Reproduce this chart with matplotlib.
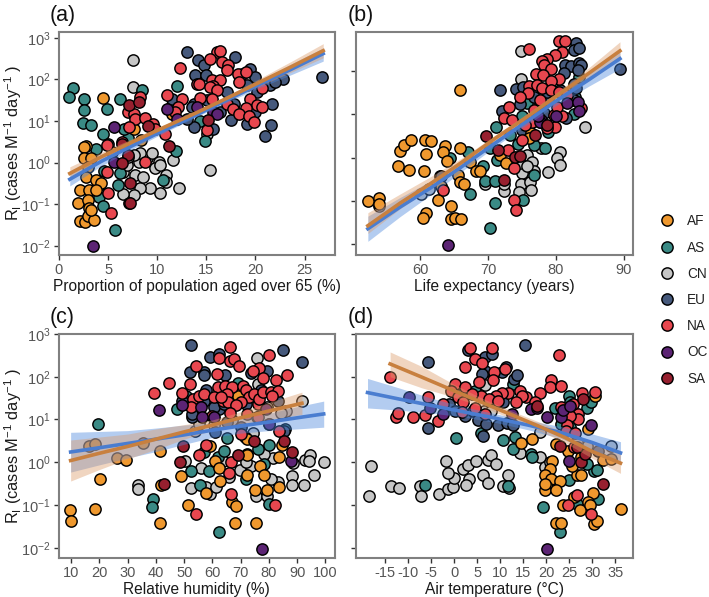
import numpy as np
import matplotlib
matplotlib.use("Agg")
import matplotlib.pyplot as plt
from matplotlib.lines import Line2D

plt.rcParams["font.family"] = ["Liberation Sans", "DejaVu Sans"]
plt.rcParams["mathtext.default"] = "regular"
plt.rcParams["axes.unicode_minus"] = False

regions = ["AF", "AS", "CN", "EU", "NA", "OC", "SA"]
draw_order = ["CN", "AS", "EU", "AF", "NA", "OC", "SA"]
colors = {"AF": "#ef982e", "AS": "#3a8a85", "CN": "#c6c6c6", "EU": "#46597c",
          "NA": "#e8474f", "OC": "#5c2474", "SA": "#97202f"}

# All y values below are log10(RI)

# Panel (a): population over 65
a_af_x = [4.5, 7.6, 2.8, 2.5, 2.5, 3.3, 5.4, 3.0, 8.3, 2.8, 3.8, 4.3, 2.1, 3.1, 3.8, 1.9, 3.0, 3.1, 2.1, 2.6, 3.0, 3.6, 3.3, 11.5]
a_af_y = [1.56, 0.8, 0.4, 0.38, 0.1, 0.12, 0.26, -0.1, 0.54, -0.34, -0.42, -0.5, -0.65, -0.65, -0.66, -0.97, -0.9, -1.1, -1.4, -1.42, -1.28, -1.38, -1.14, 1.18]
a_as_x = [1.4, 1.05, 2.5, 2.55, 2.4, 3.3, 4.9, 6.2, 8.5, 12.0, 4.5, 7.0, 3.8, 5.0, 4.6, 6.2, 6.0, 4.1, 4.1, 4.5, 5.75, 11.5, 14.4, 14.9, 11.9, 6.6, 10.6]
a_as_y = [1.8, 1.57, 1.52, 1.26, 0.96, 0.9, 1.3, 1.52, 1.74, 1.85, 0.7, 0.6, 0.32, 0.44, -0.2, -0.25, -0.54, -0.53, -0.82, -1.05, -1.61, 1.38, 1.0, 0.52, 0.28, 0.82, -0.42]
a_cn_x = [7.5, 7.5, 15.4, 15.05, 12.2, 10.3, 11.65, 10.9, 10.9, 9.3, 8.25, 7.75, 8.6, 7.6, 6.5, 6.55, 6.9, 8.1, 9.0, 9.45, 8.25, 10.2, 9.8, 10.3, 7.6, 7.05]
a_cn_y = [2.46, 1.82, -0.17, 0.7, -0.62, -0.72, 0.06, -0.3, -0.46, -0.62, -0.6, -0.3, -0.34, -0.78, -0.76, -0.22, -0.06, 0.02, 0.12, 0.22, 0.22, 0.02, -0.14, -0.06, 0.18, 0.14]
a_eu_x = [13.0, 14.2, 14.8, 17.9, 13.85, 15.0, 18.6, 19.4, 20.0, 22.8, 26.8, 17.1, 19.1, 20.15, 21.5, 22.0, 13.7, 13.5, 11.5, 15.7, 13.7, 17.5, 19.1, 21.0, 21.6, 21.7, 20.0, 16.4, 13.0, 15.05, 17.8]
a_eu_y = [2.65, 2.46, 2.34, 2.54, 2.1, 2.1, 2.13, 2.24, 2.05, 2.0, 2.06, 1.7, 1.86, 1.7, 1.86, 1.94, 1.42, 1.34, 1.54, 0.82, 0.86, 1.02, 0.92, 0.64, 0.9, 1.4, 1.22, 1.22, 1.06, 1.5, 1.42]
a_na_x = [12.3, 16.05, 16.4, 15.4, 16.6, 17.25, 17.1, 18.2, 19.0, 14.0, 14.3, 15.55, 16.4, 15.7, 15.4, 16.05, 18.3, 20.65, 12.5, 11.0, 12.15, 11.8, 14.4, 15.55, 19.45, 20.15, 20.65, 19.05, 17.1, 17.75, 18.3, 19.3, 19.9, 8.25, 7.05, 7.6, 7.75, 8.8, 9.6, 9.8, 7.1, 10.8, 15.05, 4.85, 8.8, 4.95, 5.3, 7.15, 4.85, 6.4]
a_na_y = [2.28, 2.66, 2.69, 2.5, 2.42, 2.34, 2.22, 2.13, 2.18, 1.9, 1.88, 1.98, 1.98, 1.84, 1.81, 1.74, 1.94, 1.8, 1.52, 1.62, 1.33, 1.22, 1.56, 1.52, 1.53, 1.38, 1.34, 1.32, 1.42, 1.3, 1.16, 1.12, 0.98, 1.58, 1.22, 1.16, 1.06, 1.08, 0.92, 0.82, 0.86, 0.68, 0.78, 0.42, 0.02, -0.73, -1.2, -0.98, -0.22, 0.5]
a_oc_x = [3.5, 5.55, 11.0, 14.0, 12.0, 15.7, 5.55, 16.05]
a_oc_y = [-2.0, 0.86, 1.3, 1.34, 1.06, 1.22, 0.02, 1.18]
a_sa_x = [7.15, 8.1, 9.1, 11.15, 6.4, 7.05, 6.4, 7.25, 7.25, 15.2]
a_sa_y = [1.38, 1.46, 0.88, 0.4, 0.46, 0.18, 0.0, -0.5, -0.96, 1.02]

# Panel (b): life expectancy
b_af_x = [52.25, 53.9, 53.9, 57.05, 57.65, 58.55, 56.7, 58.3, 60.5, 60.65, 61.55, 60.85, 63.6, 63.3, 63.9, 65.9, 65.9, 65.5, 65.9, 66.4, 63.1, 62.55, 64.5, 60.9, 60.4, 64.5, 65.15, 66.0, 67.35, 68.2, 68.85, 71.7, 72.6, 76.3, 76.1]
b_af_y = [-1.0, -0.93, -1.08, 0.16, 0.28, 0.41, -0.19, -0.28, -0.32, 0.41, 0.38, 0.09, 0.27, 0.12, -0.07, 0.22, 1.56, -0.39, -0.57, -0.62, -0.65, -0.97, -1.12, -1.27, -1.39, -1.41, -1.39, -1.41, -0.09, -0.3, -0.3, 0.06, -0.13, 0.56, 0.45]
b_as_x = [67.25, 70.95, 70.2, 69.3, 69.55, 71.05, 71.2, 71.3, 64.3, 67.1, 70.3, 73.25, 74.4, 76.7, 78.4, 78.9, 75.2, 75.75, 82.7, 82.85, 83.35, 76.7, 75.0, 77.65]
b_as_y = [-0.85, -1.05, -1.63, -0.2, -0.53, -0.55, 0.7, -0.05, 0.0, 0.12, 0.22, 0.52, 0.32, 0.29, 0.23, 0.6, -0.97, 1.27, 1.0, 1.4, 1.86, -0.39, 0.95, 1.25]
b_cn_x = [74.85, 74.9, 84.3, 80.6, 80.15, 80.6, 78.9, 77.8, 75.7, 76.45, 76.7, 75.0, 74.9, 76.2, 76.35, 74.5, 72.3, 72.4, 69.5, 60.15, 61.2, 53.9, 62.95, 74.7, 75.7]
b_cn_y = [2.45, 1.81, 0.71, 0.12, -0.01, -0.17, -0.34, 0.22, 0.05, -0.09, -0.32, -0.36, -0.62, -0.56, -0.74, -0.8, -0.78, -0.6, -0.61, -0.84, -0.72, -1.12, -0.43, -0.13, -0.2]
b_eu_x = [71.8, 74.1, 74.75, 72.1, 83.0, 82.7, 83.45, 81.35, 82.25, 83.35, 83.7, 83.25, 81.2, 82.6, 82.95, 89.45, 81.5, 77.7, 75.0, 63.0, 76.7, 78.9, 82.1, 80.6, 75.2, 78.65, 82.6, 78.2]
b_eu_y = [1.56, 1.58, 1.23, 1.07, 2.64, 2.47, 2.53, 2.13, 2.11, 2.19, 2.13, 2.02, 1.94, 1.69, 1.6, 2.05, 0.91, 0.83, 0.64, -0.43, 1.4, 1.33, 1.33, 1.55, 1.63, 1.52, 1.33, 1.02]
b_na_x = [76.1, 80.4, 81.35, 80.85, 79.9, 78.65, 78.0, 78.25, 79.3, 77.05, 78.15, 80.4, 79.3, 76.05, 77.15, 77.9, 79.25, 75.95, 74.75, 73.15, 72.4, 73.5, 76.7, 79.65, 80.85, 83.65, 80.1, 79.9, 78.65, 75.0, 73.0, 73.85, 73.85, 74.1, 63.35, 80.4, 77.65, 81.6, 76.45, 75.45]
b_na_y = [2.51, 2.69, 2.68, 2.44, 2.37, 2.28, 2.22, 2.13, 2.05, 1.92, 1.9, 1.82, 1.77, 1.65, 1.67, 1.61, 1.56, 1.48, 1.4, 1.16, 0.91, 0.87, 1.1, 0.98, 0.97, 1.14, 1.17, 0.71, 0.68, 0.41, 0.18, -0.24, -0.97, -1.21, -0.75, 1.52, 1.33, 1.44, 0.83, 0.75]
b_oc_x = [64.05, 81.6, 83.25, 83.45, 77.8, 77.65, 80.0, 77.4]
b_oc_y = [-2.02, 1.25, 1.29, 1.07, 0.87, 0.81, 0.95, 0.95]
b_sa_x = [69.65, 71.45, 74.0, 72.3, 76.95, 74.7, 78.65]
b_sa_y = [0.5, 0.18, 0.01, -0.51, 0.52, 0.03, 0.75]

# Panel (c): relative humidity
c_af_x = [9.5, 10.0, 18.4, 20.2, 41.5, 41.5, 41.7, 49.0, 51.5, 57.9, 59.2, 61.0, 62.2, 62.7, 67.1, 68.3, 67.95, 75.6, 75.0, 77.0, 78.4, 79.2, 83.7, 83.4, 84.6, 72.2, 72.2, 72.4, 69.1, 16.3, 18.4, 26.3, 29.5, 35.5]
c_af_y = [-1.11, -1.38, -1.1, -0.39, 0.26, -1.42, -0.54, -0.33, -1.01, -0.71, 0.38, 0.04, -0.14, -0.44, -0.93, -1.03, -1.42, -1.42, -0.66, -0.08, -0.31, -0.64, -0.58, 0.12, 0.41, -0.31, 0.16, 0.55, 1.54, 0.37, 0.43, 0.09, 0.06, 0.45]
c_as_x = [19.6, 39.0, 38.7, 62.4, 55.5, 52.3, 58.8, 61.8, 64.2, 65.0, 71.6, 76.0, 79.9, 85.8, 47.4, 50.6, 69.1, 71.9, 80.1, 57.1, 72.4, 78.4]
c_as_y = [0.9, -0.85, -1.05, -1.64, -0.54, -0.21, -0.21, 0.13, 0.27, 0.56, 0.59, 0.31, 0.41, 0.78, 1.25, 1.56, 1.85, -0.4, -0.97, 0.24, 0.2, -0.04]
c_cn_x = [33.6, 33.6, 91.7, 99.4, 96.1, 92.9, 94.7, 94.3, 88.6, 88.2, 88.2, 92.5, 81.3, 78.4, 75.8, 76.0, 55.9, 52.3, 57.9, 59.1, 61.2, 50.3, 65.9, 69.8, 73.6, 71.9, 74.3, 75.4, 79.5, 83.1, 80.7, 67.1, 79.5, 86.0, 84.3, 53.9, 55.3, 60.6, 75.8, 63.6]
c_cn_y = [-0.54, -0.62, 1.44, 0.0, -0.31, 0.06, 0.16, 0.04, -0.01, -0.33, -0.54, -0.54, 0.1, 0.2, 2.45, 1.82, -0.14, -0.61, -0.58, -0.74, -0.58, 0.02, -0.35, -0.17, -0.09, 0.0, 0.69, -0.79, -0.78, -0.47, -0.39, 0.98, 1.29, 1.21, 1.15, 0.74, 0.9, 0.86, 1.05, 0.04]
c_eu_x = [52.3, 59.1, 62.2, 84.9, 91.7, 52.1, 57.1, 57.1, 64.4, 73.6, 79.2, 77.2, 57.9, 57.1, 52.9, 52.9, 61.2, 62.4, 60.6, 49.4, 64.2, 60.9, 70.1, 79.9, 85.5, 71.9, 65.3, 83.1]
c_eu_y = [2.75, 2.47, 2.53, 2.63, 2.34, 2.1, 2.12, 2.03, 2.05, 2.08, 2.13, 1.7, 1.68, 1.43, 1.05, 1.13, 1.35, 1.25, 1.29, 1.44, 1.36, 0.7, 0.82, 0.9, 0.74, 1.36, 0.94, 1.44]
c_na_x = [66.2, 62.4, 66.2, 67.7, 69.5, 54.1, 79.9, 76.6, 74.4, 77.8, 82.5, 86.4, 61.6, 44.6, 39.3, 49.4, 52.1, 53.2, 55.3, 57.1, 52.3, 62.0, 64.4, 67.1, 65.3, 63.6, 65.6, 71.0, 71.8, 73.0, 74.8, 70.1, 68.3, 76.0, 76.6, 77.8, 80.7, 83.3, 81.0, 66.3, 72.4, 76.0, 60.0, 70.1, 83.7, 57.9, 55.3, 66.5, 65.9, 66.5, 82.1, 54.1, 60.6, 63.0]
c_na_y = [2.69, 2.45, 2.36, 2.42, 2.24, 2.26, 2.51, 2.21, 2.14, 1.97, 1.93, 2.05, 2.07, 1.86, 1.61, 1.62, 1.82, 1.48, 1.54, 1.6, 1.29, 1.75, 1.79, 1.75, 1.6, 1.44, 1.42, 1.79, 1.68, 1.52, 1.6, 1.4, 1.33, 1.36, 1.48, 1.64, 1.64, 1.66, 1.56, 1.15, 1.13, 1.05, 1.09, 0.66, 0.74, 0.41, 0.17, 0.0, -0.26, -0.74, -0.99, -1.22, 1.52, 1.52]
c_oc_x = [41.1, 49.1, 55.9, 56.2, 60.6, 79.9, 87.8, 77.5, 78.9]
c_oc_y = [1.23, 1.34, 1.29, 1.05, 1.05, 0.9, 0.02, -2.02, 1.25]
c_sa_x = [49.7, 48.6, 42.9, 69.1, 74.8, 85.5, 88.2]
c_sa_y = [0.39, 0.0, -0.52, 0.17, 0.49, 0.49, 0.24]

# Panel (d): air temperature
d_af_x = [14.5, 16.9, 21.2, 20.9, 19.8, 21.1, 22.9, 20.1, 19.8, 22.0, 19.7, 26.6, 27.5, 25.5, 24.7, 27.5, 22.0, 32.3, 34.1, 36.2, 30.1, 29.0, 25.9, 27.4, 23.6, 22.2, 23.1, 30.3, 30.9, 30.5, 29.0, 29.4]
d_af_y = [0.45, 0.54, 0.04, -0.16, -0.31, -0.4, -0.44, -0.58, -0.65, -0.66, -0.52, -0.31, -0.31, -0.08, 0.26, 0.12, 0.43, 0.06, 0.08, -1.1, -0.72, -0.92, -0.82, -1.11, -1.0, -1.42, -1.42, -1.44, -1.38, 1.54, 0.78, -1.0]
d_as_x = [-6.3, 0.3, 5.9, 10.7, 13.2, 12.8, 11.6, 16.6, 16.8, 19.3, 22.9, 25.0, 30.4, 31.1, 31.3, 26.6, 28.9, 24.9, 21.8, 28.9, 29.7, 23.2, 25.1, 12.8, 4.5, 25.1]
d_as_y = [-0.54, 0.56, 0.68, 0.51, 0.6, 0.31, -0.56, 0.19, 0.13, -1.05, -1.63, -0.41, -0.21, -0.19, -0.86, -0.97, -0.04, 1.56, 1.26, 1.26, 1.4, 0.89, 0.82, 1.83, 1.67, 1.4]
d_cn_x = [-18.1, -18.5, -13.7, -12.0, -7.4, -7.2, -3.2, -1.3, -0.2, 0.0, -1.3, -1.7, 2.0, 3.0, 4.7, 7.4, 7.9, 9.1, 6.3, 3.2, 2.5, 7.4, 11.6, 10.7, 12.0, 14.3, 18.6, 19.7, 20.8, 6.6, -0.2, 34.1, 28.8, 18.7, 26.7, 6.5, 8.1]
d_cn_y = [-0.08, -0.8, -0.56, -0.61, -0.56, -0.78, -0.74, -0.62, -0.57, -0.37, -0.25, 0.02, -0.16, -0.06, 0.02, 0.05, 0.16, -0.04, -0.31, -0.4, -0.54, -0.48, -0.31, -0.56, -0.61, 0.22, 0.12, -0.12, 0.0, 1.81, 1.71, 0.37, 0.39, 0.7, 0.48, 1.21, 1.21]
d_eu_x = [15.3, -5.7, 2.9, 6.6, 8.2, 6.8, 6.0, 10.4, 11.2, 12.9, 13.6, -5.7, 6.2, -1.1, 0.1, 2.4, 4.1, 5.2, 7.0, 9.5, 11.4, 12.7, 10.7, 31.2]
d_eu_y = [2.75, 2.35, 2.63, 2.47, 2.53, 2.14, 2.06, 2.1, 2.22, 1.95, 2.04, 0.8, 0.61, 1.36, 1.21, 1.09, 1.19, 0.99, 0.89, 0.87, 0.91, 0.86, 1.4, 0.27]
d_na_x = [-13.9, -12.7, -12.2, -9.0, -6.4, -5.7, -3.5, -2.4, 3.5, 8.2, 22.7, 4.5, 6.0, 2.3, 8.6, 11.1, 8.4, 5.3, 0.1, 2.3, -0.6, 21.1, 20.8, 23.2, 18.6, 14.3, 11.7, 15.5, 14.8, 10.4, 9.1, 5.8, 3.8, 0.9, 2.0, 7.5, 9.6, 13.5, 17.5, 4.5, 6.6, 1.7, 27.8, 30.5, 23.2, 25.7, 26.8, 26.9, 25.1, 24.4, 24.3, 26.2, 24.6, 26.7, 29.6, 26.0]
d_na_y = [2.0, 1.07, 1.15, 1.05, 1.11, 1.52, 0.96, 1.36, 2.67, 2.68, 2.51, 2.41, 2.33, 2.23, 2.12, 2.18, 1.92, 1.87, 1.84, 1.75, 1.67, 1.92, 1.77, 1.79, 1.61, 1.66, 1.63, 1.52, 1.56, 1.61, 1.56, 1.56, 1.6, 1.52, 1.42, 1.48, 1.44, 1.4, 1.4, 1.28, 1.13, 1.17, 1.63, 1.65, 1.3, 1.36, 1.14, 1.01, 1.09, 0.86, 0.74, 0.68, -0.99, -0.76, -1.22, 0.35]
d_oc_x = [-9.9, 20.2, 20.2, 23.2, 16.6, 17.9, 23.6, 25.2, 29.8, 25.0, 12.6, -5.2, -2.4]
d_oc_y = [1.53, -2.03, 1.05, 1.05, 1.25, 1.28, 1.23, 1.32, 0.86, 0.02, 1.13, 1.28, 1.13]
d_sa_x = [32.4, 27.9, 23.0, 27.6, 28.4, 26.6, 17.9]
d_sa_y = [-0.52, 1.48, 0.39, 0.0, 0.19, 0.35, 1.32]

# Fits with confidence bands, read at a few x positions
a_fit_x = [1.1, 4.3, 7.5, 10.8, 14.0, 17.2, 20.4, 23.7, 26.9]
a_org = [-0.26, 0.14, 0.5, 0.86, 1.2, 1.56, 1.93, 2.31, 2.69]
a_org_lo = [-0.42, 0.03, 0.42, 0.8, 1.15, 1.5, 1.84, 2.18, 2.52]
a_org_hi = [-0.1, 0.25, 0.58, 0.92, 1.25, 1.62, 2.02, 2.44, 2.86]
a_blu = [-0.4, 0.03, 0.41, 0.79, 1.15, 1.52, 1.88, 2.25, 2.62]
a_blu_lo = [-0.56, -0.08, 0.33, 0.73, 1.1, 1.46, 1.8, 2.12, 2.44]
a_blu_hi = [-0.24, 0.14, 0.49, 0.85, 1.2, 1.58, 1.96, 2.38, 2.76]

b_fit_x = [52.25, 57, 61.5, 66, 71, 75, 80, 85, 89.45]
b_org = [-1.57, -1.05, -0.6, -0.12, 0.44, 0.86, 1.41, 1.96, 2.46]
b_org_lo = [-1.75, -1.18, -0.7, -0.2, 0.37, 0.79, 1.33, 1.83, 2.28]
b_org_hi = [-1.27, -0.84, -0.44, -0.02, 0.51, 0.93, 1.49, 2.09, 2.67]
b_blu = [-1.64, -1.14, -0.7, -0.22, 0.33, 0.76, 1.3, 1.81, 2.28]
b_blu_lo = [-1.93, -1.36, -0.86, -0.33, 0.25, 0.68, 1.2, 1.66, 2.05]
b_blu_hi = [-1.35, -0.92, -0.54, -0.11, 0.41, 0.84, 1.4, 1.96, 2.45]

c_fit_x = [9.8, 20, 30, 40, 50, 60, 70, 80, 91.7]
c_org = [0.04, 0.21, 0.37, 0.54, 0.71, 0.87, 1.04, 1.2, 1.38]
c_org_lo = [-0.44, -0.17, 0.08, 0.3, 0.54, 0.75, 0.9, 1.0, 1.12]
c_org_hi = [0.52, 0.59, 0.66, 0.78, 0.88, 0.99, 1.18, 1.4, 1.64]
c_blu_x = [9.8, 20, 30, 40, 50, 60, 70, 80, 90, 99.4]
c_blu = [0.24, 0.34, 0.44, 0.54, 0.64, 0.75, 0.85, 0.94, 1.04, 1.13]
c_blu_lo = [-0.23, -0.06, 0.1, 0.25, 0.42, 0.58, 0.68, 0.74, 0.78, 0.82]
c_blu_hi = [0.7, 0.72, 0.74, 0.8, 0.87, 0.92, 1.02, 1.14, 1.3, 1.43]

d_fit_x = [-13.9, -7, 0, 6, 12, 18, 24, 30, 36.1]
d_org = [2.3, 1.99, 1.67, 1.4, 1.13, 0.86, 0.58, 0.25, -0.02]
d_org_lo = [2.0, 1.74, 1.52, 1.3, 1.04, 0.76, 0.46, 0.09, -0.26]
d_org_hi = [2.58, 2.24, 1.82, 1.5, 1.22, 0.96, 0.7, 0.45, 0.21]
d_blu_x = [-18.8, -12, -5, 2, 9, 16, 23, 30, 36.1]
d_blu = [1.63, 1.48, 1.33, 1.18, 1.03, 0.87, 0.7, 0.46, 0.22]
d_blu_lo = [1.27, 1.22, 1.15, 1.06, 0.93, 0.76, 0.56, 0.26, -0.04]
d_blu_hi = [1.96, 1.74, 1.5, 1.3, 1.13, 0.98, 0.84, 0.66, 0.48]

xlabels = ["Proportion of population aged over 65 (%)", "Life expectancy (years)",
           "Relative humidity (%)", "Air temperature (°C)"]
ylabel = r"R$_{I}$ (cases M$^{-1}$ day$^{-1}$ )"

W, H = 709.0, 597.0


def panel_axes(fig, left, right, top, bottom):
    return fig.add_axes([left / W, 1 - bottom / H, (right - left) / W, (bottom - top) / H])


def draw_panel(ax, points, org, blu, tag, xlabel, xticks, xlim, ylim, yticks, show_y):
    for name in draw_order:
        x, y = points[name]
        ax.scatter(x, 10.0 ** np.array(y), s=66, c=colors[name], edgecolors="black",
                   linewidths=1.05, zorder=3)

    # blue fit first, orange on top
    for fit, line_c, band_c in [(blu, "#4a7dd0", "#4a86dc"), (org, "#c8803f", "#dc9b6a")]:
        fx, fy, lo, hi = fit
        ax.fill_between(fx, 10.0 ** np.array(lo), 10.0 ** np.array(hi), color=band_c,
                        alpha=0.42, linewidth=0, zorder=4)
        ax.plot(fx, 10.0 ** np.array(fy), color=line_c, lw=2.6, zorder=5)

    ax.set_yscale("log")
    ax.set_xlim(*xlim)
    ax.set_ylim(10.0 ** ylim[0], 10.0 ** ylim[1])
    ax.set_xticks(xticks)
    ax.set_xticklabels([str(t) for t in xticks])
    ax.set_yticks(10.0 ** np.array(yticks))
    ax.minorticks_off()
    ax.tick_params(axis="both", length=3.5, width=1.0, color="#333333", labelcolor="#555555",
                   labelsize=10.5, pad=2)
    if not show_y:
        ax.tick_params(axis="y", labelleft=False)
    else:
        ax.set_ylabel(ylabel, fontsize=11.8, color="#1a1a1a")
        # label coordinate is the right edge of the rotated text
        ax.yaxis.set_label_coords(-0.125, 0.5)
    ax.set_xlabel(xlabel, fontsize=11.2, color="#1a1a1a", labelpad=1.5)
    for side in ax.spines.values():
        side.set_color("#808080")
        side.set_linewidth(1.5)
    ax.text(-0.032, 1.027, tag, transform=ax.transAxes, fontsize=15.5, color="#111111",
            ha="left", va="bottom")


fig = plt.figure(figsize=(7.09, 5.97), dpi=100)

ax_a = panel_axes(fig, 58.5, 335, 32, 255)
ax_b = panel_axes(fig, 356, 632.5, 32, 255)
ax_c = panel_axes(fig, 58.5, 335, 334, 558)
ax_d = panel_axes(fig, 356, 632.5, 334, 558)

draw_panel(ax_a,
           {"AF": (a_af_x, a_af_y), "AS": (a_as_x, a_as_y), "CN": (a_cn_x, a_cn_y), "EU": (a_eu_x, a_eu_y),
            "NA": (a_na_x, a_na_y), "OC": (a_oc_x, a_oc_y), "SA": (a_sa_x, a_sa_y)},
           (a_fit_x, a_org, a_org_lo, a_org_hi), (a_fit_x, a_blu, a_blu_lo, a_blu_hi),
           "(a)", xlabels[0], [0, 5, 10, 15, 20, 25], (-0.05, 28.1), (-2.22, 3.14), [-2, -1, 0, 1, 2, 3], True)
draw_panel(ax_b,
           {"AF": (b_af_x, b_af_y), "AS": (b_as_x, b_as_y), "CN": (b_cn_x, b_cn_y), "EU": (b_eu_x, b_eu_y),
            "NA": (b_na_x, b_na_y), "OC": (b_oc_x, b_oc_y), "SA": (b_sa_x, b_sa_y)},
           (b_fit_x, b_org, b_org_lo, b_org_hi), (b_fit_x, b_blu, b_blu_lo, b_blu_hi),
           "(b)", xlabels[1], [60, 70, 80, 90], (50.5, 91.3), (-2.245, 2.895), [-2, -1, 0, 1, 2], False)
draw_panel(ax_c,
           {"AF": (c_af_x, c_af_y), "AS": (c_as_x, c_as_y), "CN": (c_cn_x, c_cn_y), "EU": (c_eu_x, c_eu_y),
            "NA": (c_na_x, c_na_y), "OC": (c_oc_x, c_oc_y), "SA": (c_sa_x, c_sa_y)},
           (c_fit_x, c_org, c_org_lo, c_org_hi), (c_blu_x, c_blu, c_blu_lo, c_blu_hi),
           "(c)", xlabels[2], list(range(10, 101, 10)), (5.5, 103.4), (-2.24, 3.0), [-2, -1, 0, 1, 2, 3], True)
draw_panel(ax_d,
           {"AF": (d_af_x, d_af_y), "AS": (d_as_x, d_as_y), "CN": (d_cn_x, d_cn_y), "EU": (d_eu_x, d_eu_y),
            "NA": (d_na_x, d_na_y), "OC": (d_oc_x, d_oc_y), "SA": (d_sa_x, d_sa_y)},
           (d_fit_x, d_org, d_org_lo, d_org_hi), (d_blu_x, d_blu, d_blu_lo, d_blu_hi),
           "(d)", xlabels[3], list(range(-15, 36, 5)), (-21.3, 38.7), (-2.24, 2.98), [-2, -1, 0, 1, 2, 3], False)

handles = [Line2D([], [], ls="", marker="o", ms=8.1, mfc=colors[r], mec="black", mew=1.05, label=r)
           for r in regions]
fig.legend(handles=handles, loc="center left", bbox_to_anchor=(641.5 / W, 1 - 300 / H), frameon=False,
           fontsize=9.8, labelspacing=0.9, handletextpad=0.45, labelcolor="#222222")

fig.savefig("out.png", dpi=100)
